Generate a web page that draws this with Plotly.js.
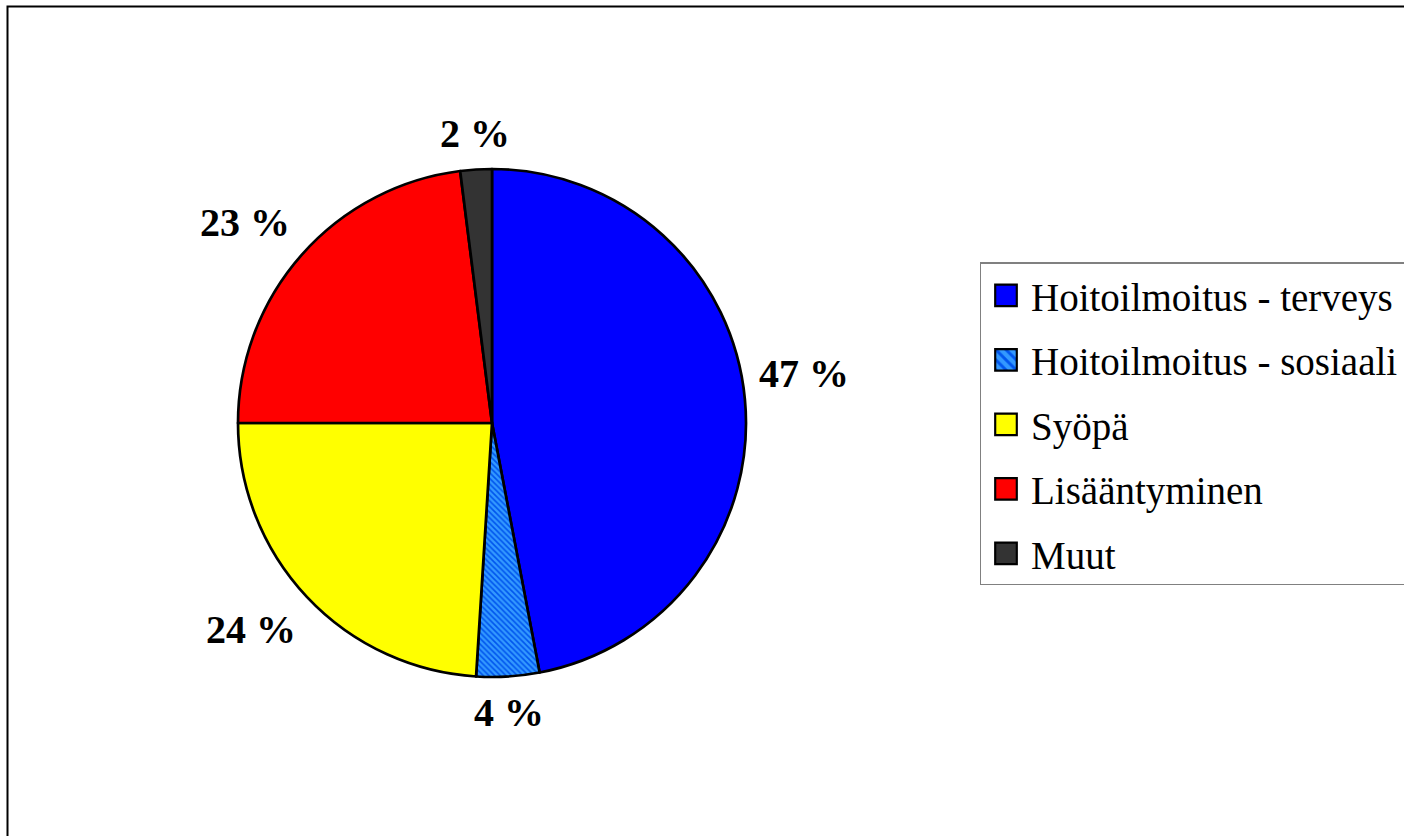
<!DOCTYPE html>
<html>
<head>
<meta charset="utf-8">
<script src="https://cdn.plot.ly/plotly-3.0.1.min.js"></script>
<style>
html,body{margin:0;padding:0;background:#fff;}
#chart{width:1404px;height:836px;}
</style>
</head>
<body>
<div id="chart"></div>
<script>
const categories = ["Hoitoilmoitus - terveys", "Hoitoilmoitus - sosiaali", "Syöpä", "Lisääntyminen", "Muut"];
const values = [47, 4, 24, 23, 2];
const sliceColors = ["#0000FF", "#3399FF", "#FFFF00", "#FF0000", "#333333"];
const labelTexts = values.map(v => v + " %");

const W = 1404, H = 836;
const cx = 492, cy = 423, r = 254;
const SERIF = "Liberation Serif";

const trace = {
  type: "pie",
  labels: categories,
  values: values,
  textinfo: "none",
  textfont: {family: SERIF},
  sort: false,
  direction: "clockwise",
  rotation: 0,
  hole: 0,
  marker: {
    colors: sliceColors,
    line: {color: "#000", width: 2.7},
    pattern: {
      shape: ["", "\\", "", "", ""],
      bgcolor: sliceColors,
      fgcolor: ["#0000FF", "#0055EE", "#FFFF00", "#FF0000", "#333333"],
      size: 4,
      solidity: 0.4
    }
  },
  domain: {
    x: [(cx - r) / W, (cx + r) / W],
    y: [(H - cy - r) / H, (H - cy + r) / H]
  },
  hoverinfo: "label+percent"
};

// percentage labels placed outside each slice, at the slice's mid-angle
const total = values.reduce((a, b) => a + b, 0);
const annotations = [];
let cum = 0;
values.forEach((v, i) => {
  const mid = (cum + v / 2) / total * 2 * Math.PI;
  cum += v;
  const s = Math.sin(mid), c = Math.cos(mid);
  const R = r + 12;
  annotations.push({
    xref: "paper", yref: "paper",
    x: (cx + R * s) / W,
    y: 1 - (cy - R * c) / H,
    text: labelTexts[i],
    showarrow: false,
    xanchor: s > 0.3 ? "left" : (s < -0.3 ? "right" : "center"),
    yanchor: c > 0.05 ? "bottom" : (c < -0.05 ? "top" : "middle"),
    font: {family: SERIF, size: 40, color: "#000", weight: "bold"}
  });
});

const layout = {
  width: W, height: H,
  margin: {l: 0, r: 0, t: 0, b: 0, autoexpand: false},
  paper_bgcolor: "#fff",
  font: {family: SERIF, color: "#000"},
  showlegend: true,
  legend: {
    x: 979.5 / W, xanchor: "left",
    y: 1 - 262 / H, yanchor: "top",
    bgcolor: "#fff",
    bordercolor: "#808080",
    borderwidth: 1.5,
    itemwidth: 40,
    font: {family: SERIF, size: 39, color: "#000"},
    traceorder: "normal",
    itemclick: false
  },
  annotations: annotations,
  shapes: [{
    type: "rect", xref: "paper", yref: "paper",
    x0: 7.5 / W, x1: 1.02, y0: -0.02, y1: 1 - 6.5 / H,
    line: {color: "#000", width: 2}, fillcolor: "rgba(0,0,0,0)", layer: "below"
  }]
};

const gd = document.getElementById("chart");
Plotly.newPlot(gd, [trace], layout, {displayModeBar: false, staticPlot: true}).then(() => {
  // widen the legend row spacing and enlarge the swatches
  const rowGap = 64.5;
  const items = gd.querySelectorAll(".legend .traces");
  if (!items.length) return;
  const parse = el => {
    const m = /translate\(\s*([-\d.e]+)[ ,]+([-\d.e]+)\s*\)/.exec(el.getAttribute("transform") || "");
    return m ? [parseFloat(m[1]), parseFloat(m[2])] : [0, 0];
  };
  const first = parse(items[0]);
  const oldGap = items.length > 1 ? parse(items[1])[1] - first[1] : rowGap;
  items.forEach((t, i) => {
    const p = parse(t);
    t.setAttribute("transform", "translate(" + p[0] + "," + (first[1] + i * rowGap) + ")");
    t.querySelectorAll(".legendpoints path").forEach(pth => {
      const tr = pth.getAttribute("transform") || "";
      pth.setAttribute("transform", tr + " scale(1.8)");
      pth.style.strokeWidth = "1.2px";
    });
  });
  const bg = gd.querySelector(".legend rect.bg");
  if (bg) {
    const h = parseFloat(bg.getAttribute("height"));
    bg.setAttribute("height", h + (rowGap - oldGap) * (items.length - 1) - 2);
    const w = parseFloat(bg.getAttribute("width"));
    bg.setAttribute("width", w + 20);
  }
  const sb = gd.querySelector(".legend .scrollbox");
  if (sb) sb.removeAttribute("clip-path");
  const lg = gd.querySelector(".legend");
  if (lg) lg.removeAttribute("clip-path");
});
</script>
</body>
</html>
